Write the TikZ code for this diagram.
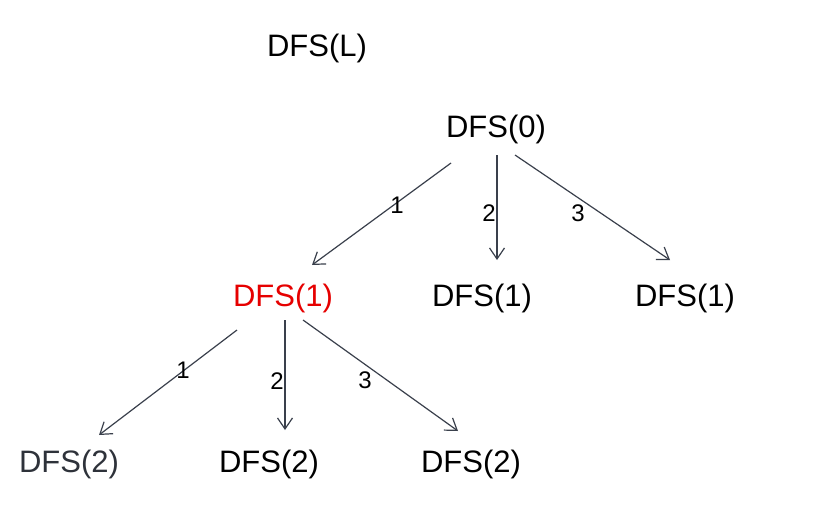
\documentclass[tikz,border=0pt]{standalone}
\usepackage{fontspec}
\setmainfont{Liberation Sans}
\usetikzlibrary{arrows.meta}
\definecolor{arrcol}{HTML}{3A404C}
\definecolor{redtxt}{HTML}{E60000}
\definecolor{dimtxt}{HTML}{2E323A}
\tikzset{
  lbl/.style={font=\fontsize{31}{36}\selectfont, inner sep=0pt, anchor=base},
  num/.style={font=\fontsize{24}{28}\selectfont, inner sep=0pt},
  arr/.style={draw=arrcol, line width=1.2pt, -{Straight Barb[length=11pt,width=15pt,line width=1.2pt]}}
}
\begin{document}
\begin{tikzpicture}[x=1pt,y=-1pt]
\fill[white] (0,0) rectangle (826,512);
\useasboundingbox (0,0) rectangle (826,512);
\node[lbl] (nL) at (317,56) {DFS(L)};
\node[lbl] (n0) at (496,137) {DFS(0)};
\node[lbl, text=redtxt] (n1r) at (283,306) {DFS(1)};
\node[lbl] (n1b) at (482,306) {DFS(1)};
\node[lbl] (n1c) at (685,306) {DFS(1)};
\node[lbl, text=dimtxt] (n2a) at (69,472) {DFS(2)};
\node[lbl] (n2b) at (269,472) {DFS(2)};
\node[lbl] (n2c) at (471,472) {DFS(2)};
\draw[arr] ([shift={(-45,26)}]n0.base) -- ([shift={(29,-41)}]n1r.base);
\draw[arr] ([shift={(1,18)}]n0.base) -- ([shift={(15,-46)}]n1b.base);
\draw[arr] ([shift={(19,18)}]n0.base) -- ([shift={(-15,-46)}]n1c.base);
\draw[arr] ([shift={(-46,24)}]n1r.base) -- ([shift={(30,-37)}]n2a.base);
\draw[arr] ([shift={(2,14)}]n1r.base) -- ([shift={(16,-42)}]n2b.base);
\draw[arr] ([shift={(20,14)}]n1r.base) -- ([shift={(-13,-41)}]n2c.base);
\node[num] (l1) at (397,205) {1};
\node[num] (l2) at (489,213) {2};
\node[num] (l3) at (578,213) {3};
\node[num] (l4) at (183,370) {1};
\node[num] (l5) at (277,381) {2};
\node[num] (l6) at (365,380) {3};
\end{tikzpicture}
\end{document}
